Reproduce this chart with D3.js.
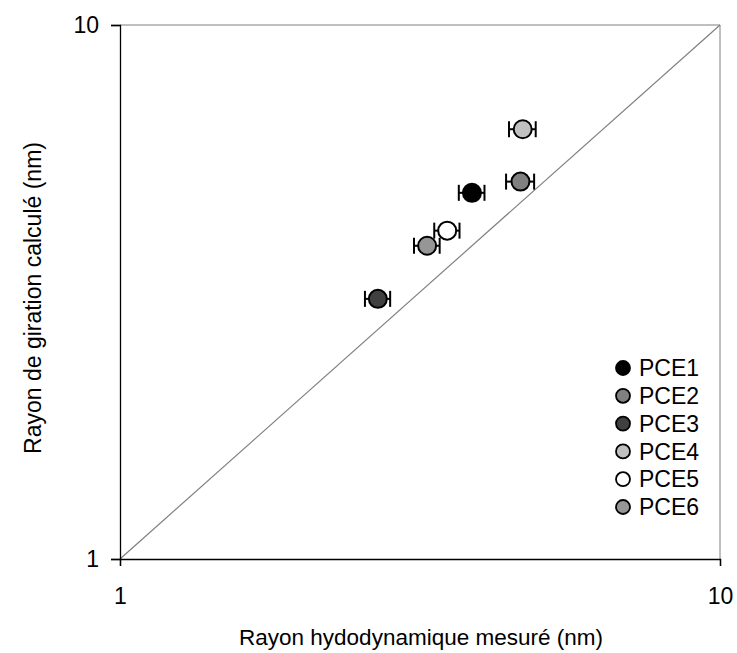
<!DOCTYPE html>
<html><head><meta charset="utf-8">
<script src="https://cdn.jsdelivr.net/npm/d3@7/dist/d3.min.js"></script>
<style>body{margin:0;background:#fff;} text{font-family:"Liberation Sans",Arial,sans-serif;}</style>
</head><body><svg id="c" width="737" height="653"></svg>
<script>
const names = ["PCE1","PCE2","PCE3","PCE4","PCE5","PCE6"];
const rh = [3.86, 4.65, 2.69, 4.69, 3.51, 3.25];      // measured hydrodynamic radius (nm)
const rhErr = [0.19, 0.25, 0.13, 0.24, 0.17, 0.16];   // error on x
const rg = [4.85, 5.09, 3.07, 6.38, 4.12, 3.86];      // calculated radius of gyration (nm)
const fills = ["#000000","#808080","#404040","#c0c0c0","#ffffff","#969696"];
const xTicks = [1, 10];
const yTicks = [1, 10];

const svg = d3.select("#c");
const L = 120, R = 720, T = 25, B = 559;
const x = d3.scaleLog().domain([1, 10]).range([L, R]);
const y = d3.scaleLog().domain([1, 10]).range([B, T]);

// frame
svg.append("line").attr("x1", L).attr("x2", R).attr("y1", T).attr("y2", T).attr("stroke", "#808080").attr("stroke-width", 1);
svg.append("line").attr("x1", R).attr("x2", R).attr("y1", T).attr("y2", B).attr("stroke", "#808080").attr("stroke-width", 1);

// diagonal y = x
svg.append("line").attr("x1", x(1)).attr("y1", y(1)).attr("x2", x(10)).attr("y2", y(10))
  .attr("stroke", "#808080").attr("stroke-width", 1.2);

const xAxis = svg.append("g").attr("transform", `translate(0,${B})`)
  .call(d3.axisBottom(x).tickValues(xTicks).tickFormat(d3.format("d")).tickSize(7).tickPadding(22));
const yAxis = svg.append("g").attr("transform", `translate(${L},0)`)
  .call(d3.axisLeft(y).tickValues(yTicks).tickFormat(d3.format("d")).tickSize(9).tickPadding(12));
[xAxis, yAxis].forEach(g => {
  g.select(".domain").attr("stroke", "#000").attr("stroke-width", 1.3);
  g.selectAll(".tick line").attr("stroke", "#000").attr("stroke-width", 1.3);
  g.selectAll(".tick text").attr("font-size", 23).attr("fill", "#000").style("font-family", "Liberation Sans, Arial, sans-serif");
});

const data = names.map((n, i) => ({n, x: rh[i], e: rhErr[i], y: rg[i], f: fills[i]}));

// error bars
const eb = svg.append("g").attr("stroke", "#000").attr("stroke-width", 2);
data.forEach(d => {
  const yy = y(d.y);
  eb.append("line").attr("x1", x(d.x - d.e)).attr("x2", x(d.x + d.e)).attr("y1", yy).attr("y2", yy);
  [d.x - d.e, d.x + d.e].forEach(v => {
    eb.append("line").attr("x1", x(v)).attr("x2", x(v)).attr("y1", yy - 8).attr("y2", yy + 8);
  });
});

// points
svg.append("g").selectAll("circle").data(data).join("circle")
  .attr("cx", d => x(d.x)).attr("cy", d => y(d.y)).attr("r", 9)
  .attr("fill", d => d.f).attr("stroke", "#000").attr("stroke-width", 2);

// legend
const lg = svg.append("g");
data.forEach((d, i) => {
  const ly = 368 + i * 27.8;
  lg.append("circle").attr("cx", 623).attr("cy", ly).attr("r", 7).attr("fill", d.f).attr("stroke", "#000").attr("stroke-width", 1.8);
  lg.append("text").attr("x", 639).attr("y", ly).attr("dy", "0.36em").attr("font-size", 23).text(d.n);
});

// axis titles
svg.append("text").attr("x", 421).attr("y", 645).attr("text-anchor", "middle").attr("font-size", 22.5).text("Rayon hydodynamique mesuré (nm)");
svg.append("text").attr("transform", "translate(41,298) rotate(-90)").attr("text-anchor", "middle").attr("font-size", 23).text("Rayon de giration calculé (nm)");
</script>
</body></html>
